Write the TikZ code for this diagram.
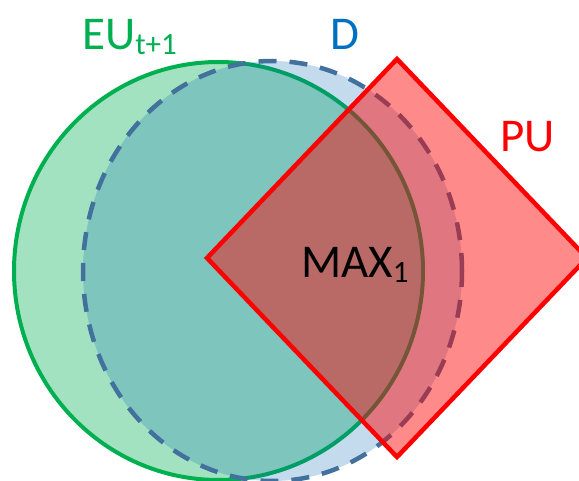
\documentclass[tikz,border=0pt]{standalone}
\usepackage{fontspec}
\setmainfont{Carlito}
\definecolor{eugreen}{RGB}{0,176,80}
\definecolor{dfill}{RGB}{1,101,180}
\definecolor{dline}{RGB}{65,113,156}
\definecolor{dtext}{RGB}{0,112,192}
\newcommand{\lowsub}[1]{\raisebox{-4.5pt}{\fontsize{31}{31}\selectfont #1}}
\begin{document}
\begin{tikzpicture}[x=1pt, y=-1pt, line join=miter,
  set label/.style={inner sep=0pt, anchor=base west, font=\fontsize{47}{50}\selectfont}]
  \useasboundingbox (0,0) rectangle (579,481);
  \clip (0,0) rectangle (579,481);
  % EU_{t+1}
  \fill[eugreen, fill opacity=0.36] (218.5,271) ellipse [x radius=204.5pt, y radius=209pt];
  \draw[eugreen, line width=4pt] (218.5,271) ellipse [x radius=204.5pt, y radius=209pt];
  % D
  \fill[dfill, fill opacity=0.23] (272.5,271) ellipse [x radius=189.5pt, y radius=210pt];
  \draw[dline, line width=4.5pt, dash pattern=on 18pt off 13pt] (272.5,271) ellipse [x radius=189.5pt, y radius=210pt];
  % PU
  \coordinate (pu w) at (207,258);
  \coordinate (pu n) at (397,59);
  \coordinate (pu e) at (587,258);
  \coordinate (pu s) at (397,457);
  \fill[red, fill opacity=0.46] (pu w) -- (pu n) -- (pu e) -- (pu s) -- cycle;
  \draw[red, line width=4.5pt] (pu w) -- (pu n) -- (pu e) -- (pu s) -- cycle;
  % labels
  \node[set label, text=eugreen] (eu) at (82,50) {EU\lowsub{t+1}};
  \node[set label, text=dtext] (d) at (330,50) {D};
  \node[set label, text=red] (pu) at (500,152) {PU};
  \node[set label, text=black] (max) at (301,278) {MAX\lowsub{1}};
\end{tikzpicture}
\end{document}
